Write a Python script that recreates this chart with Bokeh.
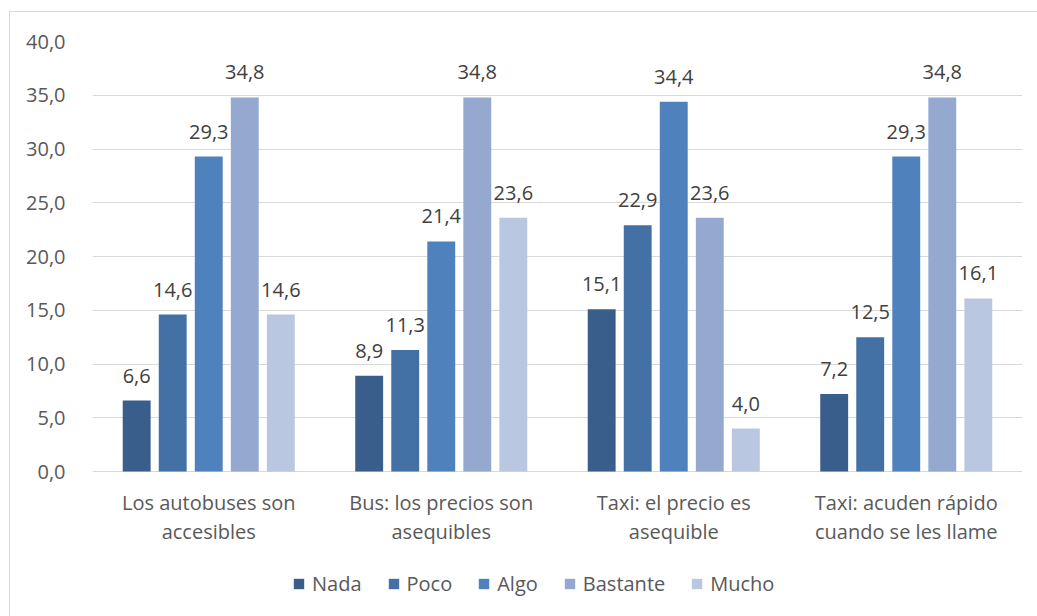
from bokeh.plotting import figure
from bokeh.models import ColumnDataSource, Legend, LegendItem, FactorRange, Range1d
from bokeh.transform import dodge
from bokeh.core.properties import value
from bokeh.embed import file_html
from bokeh.resources import INLINE

categories = [
    "Los autobuses son\naccesibles",
    "Bus: los precios son\nasequibles",
    "Taxi: el precio es\nasequible",
    "Taxi: acuden rápido\ncuando se les llame",
]
series_names = ["Nada", "Poco", "Algo", "Bastante", "Mucho"]
nada = [6.6, 8.9, 15.1, 7.2]
poco = [14.6, 11.3, 22.9, 12.5]
algo = [29.3, 21.4, 34.4, 29.3]
bastante = [34.8, 34.8, 23.6, 34.8]
mucho = [14.6, 23.6, 4.0, 16.1]
y_ticks = [0, 5, 10, 15, 20, 25, 30, 35, 40]

series_values = [nada, poco, algo, bastante, mucho]
colors = ["#3A5E8C", "#4371A6", "#4F81BD", "#95A9D0", "#B9C7E1"]
offsets = [-0.31, -0.155, 0.0, 0.155, 0.31]

FONT = "Open Sans"
AXIS_COLOR = "#595959"
LABEL_COLOR = "#404040"

def fmt(v):
    return f"{v:.1f}".replace(".", ",")

data = {"cat": categories, "zero": [0] * len(categories)}
for name, vals in zip(series_names, series_values):
    data[name] = vals
    data[name + "_lbl"] = [fmt(v) for v in vals]
source = ColumnDataSource(data)

W, H = 1034, 607
TOP, BOTTOM = 29, 10
# plot frame runs down past the zero line so that the category labels and
# the legend can sit inside it; 10.75 px per unit
PX_PER_UNIT = 430 / 40
frame_h = H - TOP - BOTTOM
y_start = -(frame_h - 430) / PX_PER_UNIT

p = figure(
    x_range=FactorRange(*categories, range_padding=0),
    y_range=Range1d(y_start, 40),
    width=W, height=H,
    output_backend="svg", toolbar_location=None,
    min_border_left=82, min_border_right=W - 1012,
    min_border_top=TOP, min_border_bottom=BOTTOM,
)
p.styles = {"margin-left": "9px", "margin-top": "11px",
            "border": "1px solid #D9D9D9"}
p.outline_line_color = None
p.background_fill_color = "white"
p.border_fill_color = "white"

p.xaxis.visible = False
p.xgrid.grid_line_color = None
p.ygrid.grid_line_color = "#D9D9D9"
p.ygrid.grid_line_width = 1
p.yaxis.ticker = y_ticks
p.yaxis.major_label_overrides = {t: fmt(t) for t in y_ticks}
p.yaxis.axis_line_color = None
p.yaxis.major_tick_line_color = None
p.yaxis.minor_tick_line_color = None
p.yaxis.major_label_standoff = 21
p.yaxis.major_label_text_font = FONT
p.yaxis.major_label_text_font_size = "20px"
p.yaxis.major_label_text_color = AXIS_COLOR

# category labels under the zero line
p.text(x="cat", y="zero", text="cat", source=source,
       text_align="center", text_baseline="top", y_offset=17,
       text_line_height=1.08,
       text_font=value(FONT), text_font_size="20px", text_color=AXIS_COLOR)

items = []
for name, color, off in zip(series_names, colors, offsets):
    xs = dodge("cat", off, range=p.x_range)
    r = p.vbar(x=xs, top=name, width=0.12, source=source,
               fill_color=color, line_color=None)
    p.text(x=xs, y=name, text=name + "_lbl", source=source,
           text_align="center", text_baseline="bottom", y_offset=-18,
           text_font=value(FONT), text_font_size="20px",
           text_color=LABEL_COLOR)
    items.append(LegendItem(label=name, renderers=[r]))

legend = Legend(items=items, orientation="horizontal", location=(200, 12),
                glyph_width=13, glyph_height=13, label_standoff=7, spacing=25,
                padding=0, margin=0, border_line_color=None,
                background_fill_alpha=0,
                label_text_font=FONT, label_text_font_size="20px",
                label_text_color=AXIS_COLOR)
p.add_layout(legend, "center")

open("out.html", "w").write(file_html(p, INLINE))
